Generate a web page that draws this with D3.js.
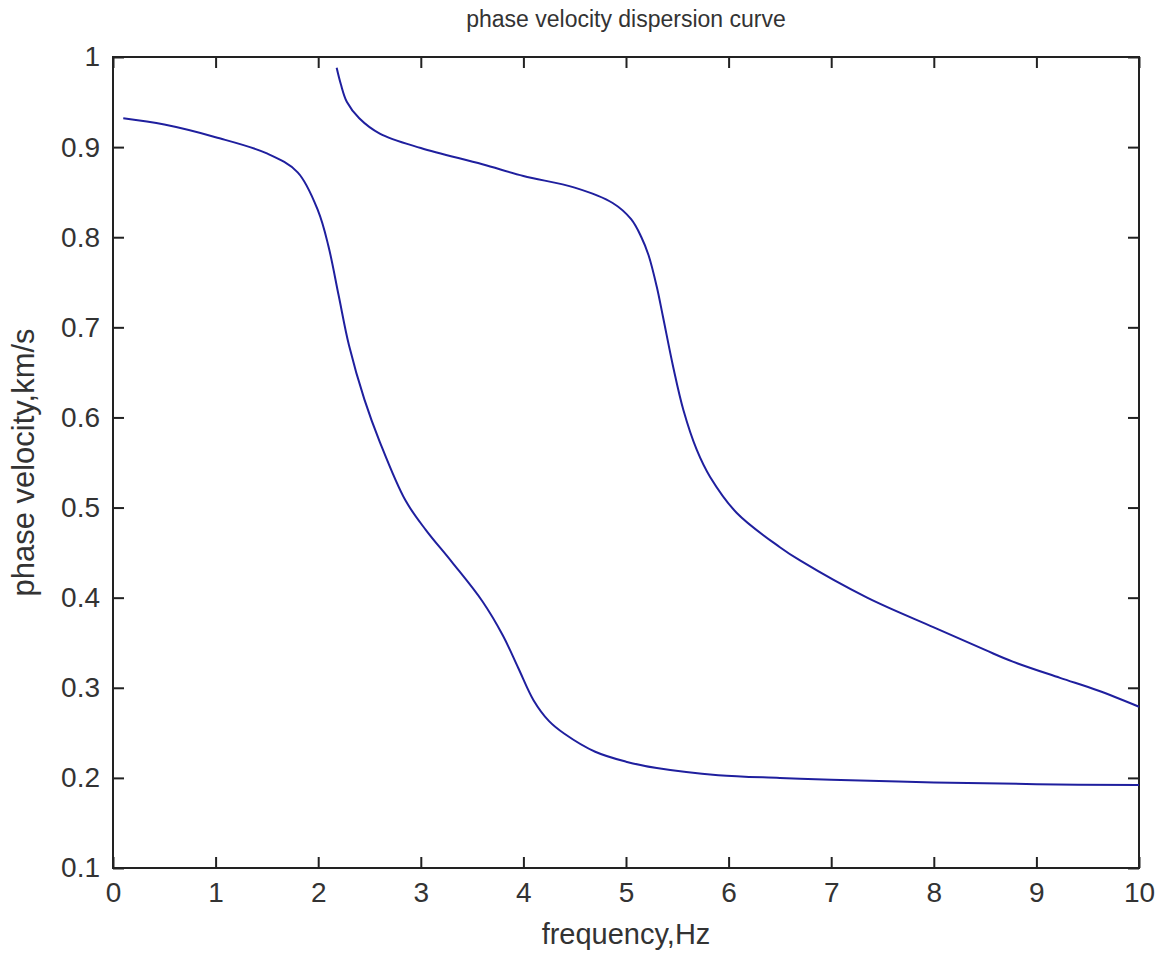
<!DOCTYPE html>
<html>
<head>
<meta charset="utf-8">
<style>
  body { margin: 0; background: #fff; }
  svg { display: block; font-family: "Liberation Sans", Arial, sans-serif; }
</style>
</head>
<body>
<svg width="1158" height="953"></svg>
<script src="https://d3js.org/d3.v7.min.js"></script>
<script>
// 数据：两条频散曲线（基阶和高阶）
var freq1 = [0.1, 0.5, 1.0, 1.5, 1.8, 2.0, 2.1, 2.2, 2.3, 2.45, 2.6, 2.85, 3.05, 3.3, 3.6, 3.8, 3.95, 4.1, 4.25, 4.4, 4.7, 5.0, 5.3, 5.9, 6.5, 7.0, 8.0, 9.0, 10];
var vel1  = [0.932, 0.925, 0.911, 0.893, 0.872, 0.829, 0.790, 0.735, 0.680, 0.620, 0.573, 0.508, 0.475, 0.440, 0.396, 0.358, 0.322, 0.286, 0.263, 0.249, 0.229, 0.218, 0.211, 0.203, 0.200, 0.198, 0.195, 0.193, 0.192];
var freq2 = [2.18, 2.22, 2.28, 2.4, 2.6, 3.0, 3.6, 4.0, 4.5, 4.87, 5.05, 5.15, 5.22, 5.3, 5.36, 5.46, 5.56, 5.69, 5.82, 6.08, 6.5, 6.7, 7.35, 8.0, 8.5, 8.77, 9.23, 9.6, 10];
var vel2  = [0.988, 0.970, 0.950, 0.932, 0.915, 0.899, 0.881, 0.868, 0.855, 0.838, 0.820, 0.800, 0.780, 0.745, 0.712, 0.656, 0.608, 0.564, 0.534, 0.494, 0.456, 0.441, 0.400, 0.367, 0.342, 0.329, 0.311, 0.297, 0.279];
var xTicks = [0, 1, 2, 3, 4, 5, 6, 7, 8, 9, 10];
var yTicks = [0.1, 0.2, 0.3, 0.4, 0.5, 0.6, 0.7, 0.8, 0.9, 1];

var svgElem = d3.select('svg');
var margin = { left: 113, right: 19, top: 57, bottom: 85 };
var width = +svgElem.attr('width') - margin.left - margin.right;
var height = +svgElem.attr('height') - margin.top - margin.bottom;
var g = svgElem.append('g')
    .attr('transform', `translate(${margin.left}, ${margin.top})`);

var x = d3.scaleLinear().domain([0, 10]).range([0, width]);
var y = d3.scaleLinear().domain([0.1, 1]).range([height, 0]);

// 坐标轴（刻度朝内，四边都有）
var tickLen = 11;
var fmtY = function (d) { return d === 1 ? '1' : d3.format('.1f')(d); };

function styleAxis(sel) {
    sel.select('.domain').remove();
    sel.selectAll('.tick line').attr('stroke', '#222').attr('stroke-width', 2);
    sel.selectAll('.tick text').attr('fill', '#333').style('font-size', '28px');
}

g.append('g')
    .attr('transform', `translate(0, ${height})`)
    .call(d3.axisBottom(x).tickValues(xTicks).tickSize(-tickLen).tickPadding(12).tickFormat(d3.format('d')))
    .call(styleAxis)
    .selectAll('.tick text').attr('dy', '0.8em');

g.append('g')
    .call(d3.axisTop(x).tickValues(xTicks).tickSize(-tickLen).tickFormat(''))
    .call(styleAxis);

g.append('g')
    .call(d3.axisLeft(y).tickValues(yTicks).tickSize(-tickLen).tickPadding(13).tickFormat(fmtY))
    .call(styleAxis);

g.append('g')
    .attr('transform', `translate(${width}, 0)`)
    .call(d3.axisRight(y).tickValues(yTicks).tickSize(-tickLen).tickFormat(''))
    .call(styleAxis);

// 外框
g.append('rect')
    .attr('x', 0).attr('y', 0)
    .attr('width', width).attr('height', height)
    .attr('fill', 'none')
    .attr('stroke', '#222')
    .attr('stroke-width', 2);

// 曲线
var line = d3.line()
    .x(function (d) { return x(d[0]); })
    .y(function (d) { return y(d[1]); })
    .curve(d3.curveCatmullRom.alpha(0.5));

[[freq1, vel1], [freq2, vel2]].forEach(function (s) {
    g.append('path')
        .datum(d3.zip(s[0], s[1]))
        .attr('fill', 'none')
        .attr('stroke', '#1f1f9e')
        .attr('stroke-width', 2)
        .attr('d', line);
});

// 标题和轴标签
svgElem.append('text')
    .attr('x', margin.left + width / 2)
    .attr('y', 27)
    .attr('text-anchor', 'middle')
    .attr('fill', '#333')
    .style('font-size', '23px')
    .text('phase velocity dispersion curve');

svgElem.append('text')
    .attr('x', margin.left + width / 2)
    .attr('y', 944)
    .attr('text-anchor', 'middle')
    .attr('fill', '#333')
    .style('font-size', '29px')
    .text('frequency,Hz');

svgElem.append('text')
    .attr('transform', `translate(34, ${margin.top + height / 2}) rotate(-90)`)
    .attr('text-anchor', 'middle')
    .attr('fill', '#333')
    .style('font-size', '31px')
    .text('phase velocity,km/s');
</script>
</body>
</html>
